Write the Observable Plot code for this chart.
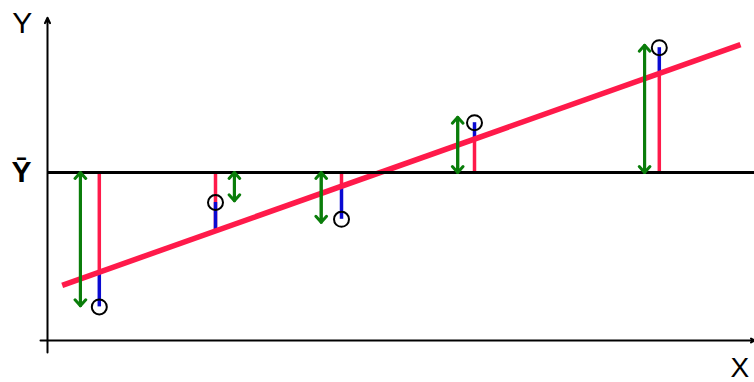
<!DOCTYPE html>
<html>
<head>
<meta charset="utf-8">
<script src="https://cdn.jsdelivr.net/npm/d3@7"></script>
<script src="https://cdn.jsdelivr.net/npm/@observablehq/plot@0.6"></script>
<style>
  html, body { margin: 0; padding: 0; background: #fff; }
  svg { display: block; }
</style>
</head>
<body>
<div id="chart"></div>
<script>
// Observed points
const pointX = [7.4, 24, 42, 61, 87.4];
const pointY = [5.6, 23, 20.2, 36.3, 48.8];
// Fitted values on the regression line at each point
const fittedY = [11.3, 18.2, 25.7, 33.6, 44.7];
// Green deviation arrows (total deviation), x position and tip
const arrowX = [4.7, 26.7, 39.1, 58.6, 85.3];
const arrowTipY = [5.8, 23.3, 19.7, 37.2, 49.2];
// Mean of Y
const yBar = 28;
// Regression line end points
const regX = [2.1, 99];
const regY = [9.2, 49.3];

const pts = pointX.map((x, i) => ({x, y: pointY[i], fit: fittedY[i]}));
const arrows = arrowX.map((x, i) => ({x, tip: arrowTipY[i]}));
const reg = regX.map((x, i) => ({x, y: regY[i]}));

const RED = "#ff1a4a", BLUE = "#0a0ad2", GREEN = "#0a7d0a";

const chart = Plot.plot({
  width: 754,
  height: 382,
  margin: 0,
  x: {domain: [0, 100], range: [47, 747], axis: null},
  y: {domain: [0, 50], range: [340, 40], axis: null},
  style: {fontFamily: "Liberation Sans, Arial, sans-serif", background: "#fff"},
  marks: [
    // axes
    Plot.arrow([{}], {x1: 0, y1: -2, x2: 0, y2: 53.8, stroke: "black", strokeWidth: 2, headLength: 4.5, headAngle: 50}),
    Plot.arrow([{}], {x1: -1, y1: 0, x2: 101, y2: 0, stroke: "black", strokeWidth: 2, headLength: 3, headAngle: 60}),
    // red: explained deviation
    Plot.ruleX(pts, {x: "x", y1: yBar, y2: "fit", stroke: RED, strokeWidth: 3.5}),
    // blue: residual
    Plot.ruleX(pts, {x: "x", y1: "fit", y2: "y", stroke: BLUE, strokeWidth: 3.5}),
    // regression line
    Plot.line(reg, {x: "x", y: "y", stroke: RED, strokeWidth: 5.5, strokeLinecap: "butt"}),
    // mean line
    Plot.ruleY([yBar], {x1: 0, x2: 101, stroke: "black", strokeWidth: 3}),
    // green double arrows
    Plot.arrow(arrows, {x1: "x", y1: yBar, x2: "x", y2: "tip", stroke: GREEN, strokeWidth: 3, headLength: 4, headAngle: 84}),
    Plot.arrow(arrows, {x1: "x", y1: "tip", x2: "x", y2: yBar, stroke: GREEN, strokeWidth: 3, headLength: 4, headAngle: 84}),
    // points
    Plot.dot(pts, {x: "x", y: "y", r: 7.5, stroke: "black", strokeWidth: 2, fill: "none"}),
    // labels
    Plot.text([{}], {x: -3.6, y: 52.8, text: () => "Y", fontSize: 30, fill: "black"}),
    Plot.text([{}], {x: -3.7, y: yBar, text: () => "Ȳ", fontSize: 30, fontWeight: "bold", fill: "black"}),
    Plot.text([{}], {x: 98.9, y: -4.6, text: () => "X", fontSize: 28, fill: "black"})
  ]
});
document.getElementById("chart").appendChild(chart);
</script>
</body>
</html>
